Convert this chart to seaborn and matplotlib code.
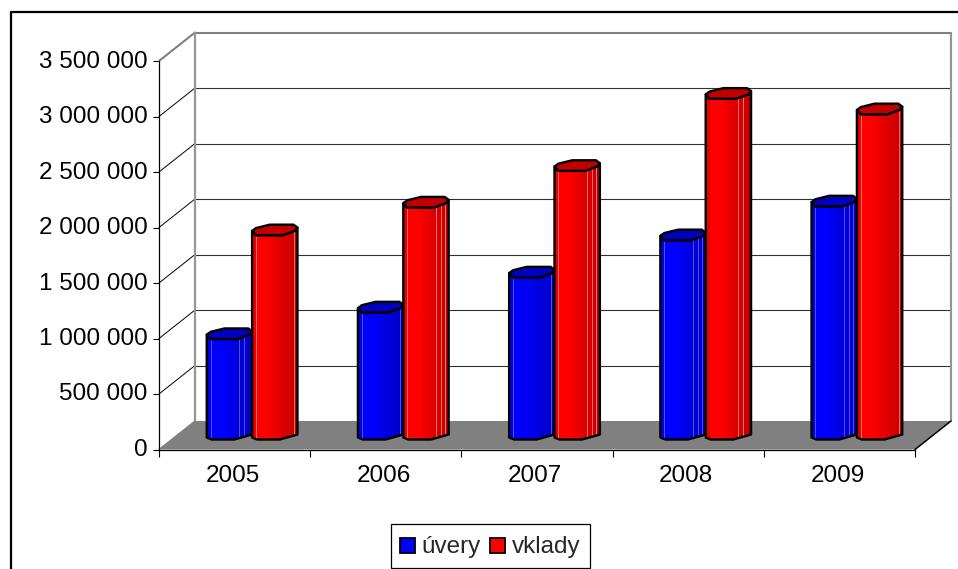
import numpy as np
import pandas as pd
import matplotlib
matplotlib.use("Agg")
import matplotlib.pyplot as plt
import seaborn as sns
from matplotlib.legend_handler import HandlerPatch
from matplotlib.lines import Line2D
from matplotlib.patches import Patch, Polygon, Rectangle
from matplotlib.transforms import Affine2D, IdentityTransform, ScaledTranslation

years = ["2005", "2006", "2007", "2008", "2009"]
uvery = [905000, 1145000, 1460000, 1795000, 2100000]
vklady = [1840000, 2090000, 2420000, 3070000, 2930000]
series_names = ["úvery", "vklady"]
y_ticks = [0, 500000, 1000000, 1500000, 2000000, 2500000, 3000000, 3500000]

W, H = 958, 569
sns.set_style("white")
plt.rcParams["font.family"] = ["Liberation Sans", "DejaVu Sans"]
FS = 17.5

df = pd.DataFrame({
    "rok": years * 2,
    "hodnota": uvery + vklady,
    "typ": [series_names[0]] * 5 + [series_names[1]] * 5,
})
palette = {"úvery": "#0000FF", "vklady": "#FF0000"}

fig = plt.figure(figsize=(W / 100, H / 100), dpi=100, facecolor="white")
# front plane of the pseudo-3D plot, in pixels
L, R, TOP, BOT = 159.0, 915.0, 61.0, 449.5
ax = fig.add_axes([L / W, 1 - BOT / H, (R - L) / W, (BOT - TOP) / H])
ax.patch.set_visible(False)
sns.barplot(data=df, x="rok", y="hodnota", hue="typ", palette=palette, ax=ax,
            width=0.6, gap=0, legend=False, saturation=1)
ax.set_xlim(-0.5, 4.5)
ax.set_ylim(0, 3500000)
ax.set_xlabel("")
ax.set_ylabel("")

# depth offsets
DX, DY = 36.0, 28.5
BAR_DX, BAR_DY = 17.5, 10.0
back = ax.transData + Affine2D().translate(DX, DY)
bar_shift = ax.transData + Affine2D().translate(BAR_DX, BAR_DY)

# walls and floor
x0d, x1d = ax.get_xlim()
to_px = ax.transData.transform
(fx0, fy0), (fx1, fy1) = to_px((x0d, 0)), to_px((x1d, 0))
floor = Polygon([(fx0, fy0), (fx0 + DX, fy0 + DY), (fx1 + DX, fy1 + DY), (fx1, fy1)],
                closed=True, transform=IdentityTransform(), facecolor="#808080",
                edgecolor="none", zorder=1.5, clip_on=False)
ax.add_patch(floor)
GREY = "#969696"
for v in y_ticks:
    is_top = v == y_ticks[-1]
    col = "#808080" if is_top else "#303030"
    lw = 1.5 if is_top else 0.8
    if v != 0:
        ax.add_line(Line2D([x0d, x1d], [v, v], transform=back, color=col, lw=lw,
                           zorder=1, clip_on=False))
        (px, py) = to_px((x0d, v))
        ax.add_line(Line2D([px, px + DX], [py, py + DY], transform=IdentityTransform(),
                           color=col if is_top else "black", lw=1.5 if is_top else 0.7,
                           zorder=1, clip_on=False))
ax.add_line(Line2D([x0d, x0d], [0, y_ticks[-1]], transform=back, color=GREY, lw=1.6,
                   zorder=1.2, clip_on=False))
ax.add_line(Line2D([x1d, x1d], [0, y_ticks[-1]], transform=back, color=GREY, lw=1.6,
                   zorder=1.2, clip_on=False))
ax.add_line(Line2D([fx0, fx0 + DX], [fy0, fy0 + DY], transform=IdentityTransform(),
                   color="#808080", lw=1, zorder=1.6, clip_on=False))
ax.add_line(Line2D([fx1, fx1 + DX], [fy1, fy1 + DY], transform=IdentityTransform(),
                   color="black", lw=1.1, zorder=1.6, clip_on=False))


def facet_table(kind):
    """(start, end, colour) across the width of a column."""
    if kind == 0:
        f = lambda v: (0, 0, v)
        light = (0.3, 0.3, 1.0)
    else:
        f = lambda v: (v, 0, 0)
        light = (1.0, 0.42, 0.42)
    out = [(0.0, 0.085, f(0.9)), (0.085, 0.105, light)]
    edges = np.linspace(0.105, 0.72, 14)
    for a, b in zip(edges[:-1], edges[1:]):
        mid = (a + b) / 2
        val = 1.0 if mid < 0.34 else 1.0 - 0.16 * (mid - 0.34) / 0.38
        out.append((a, b, f(val)))
    out += [(0.72, 0.735, light), (0.735, 0.83, f(0.84)), (0.83, 0.845, light),
            (0.845, 0.925, f(0.8)), (0.925, 0.94, light), (0.94, 1.0, f(0.72))]
    return out


CAP_U = [(0, 4.3), (4, 0), (31, 0), (43, 4.3), (46, 7.6), (42, 10.6), (18, 10.6), (4, 7.2)]
LIP_U = [(0, 4.3), (4, 0), (31, 0), (43, 4.3), (46, 7.6)]
BOT_U = [(46, 5), (28, 0), (5, 0), (0, 2)]

for kind, cont in enumerate(ax.containers[:2]):
    cap_col = "#0000BE" if kind == 0 else "#C00000"
    base_z = 5 + kind * 5
    for rect in cont.patches:
        x, w, h = rect.get_x(), rect.get_width(), rect.get_height()
        (xl, ytop) = bar_shift.transform((x, h))
        (xr, ybot) = bar_shift.transform((x + w, 0))
        sc = (xr - xl) / 46.0
        body = Polygon([(xl + u * sc, ytop + v) for u, v in LIP_U]
                       + [(xl + u * sc, ybot + v) for u, v in BOT_U],
                       closed=True, transform=IdentityTransform(), facecolor="none",
                       edgecolor="black", lw=1.7, zorder=base_z + 0.5, clip_on=False,
                       joinstyle="round")
        ax.add_patch(body)
        rect.set_transform(bar_shift)
        rect.set_zorder(base_z)
        rect.set_clip_path(body)
        for a, b, col in facet_table(kind):
            r = Rectangle((xl + a * (xr - xl), ybot - 2), (b - a) * (xr - xl) + 0.4,
                          ytop - ybot + 16, transform=IdentityTransform(), facecolor=col,
                          edgecolor="none", zorder=base_z + 0.2)
            ax.add_patch(r)
            r.set_clip_path(body)
        cap = Polygon([(xl + u * sc, ytop + v) for u, v in CAP_U], closed=True,
                      transform=IdentityTransform(), facecolor=cap_col, edgecolor="black",
                      lw=1.7, zorder=base_z + 0.6, clip_on=False, joinstyle="round")
        ax.add_patch(cap)

# axes, ticks
sns.despine(ax=ax, top=True, right=True)
for s in ("left", "bottom"):
    ax.spines[s].set_color("black")
    ax.spines[s].set_linewidth(0.9)
ax.set_yticks(y_ticks, [f"{v:,}".replace(",", " ") for v in y_ticks], fontsize=FS, color="black")
ax.set_xticks(np.arange(-0.5, 5, 1.0), [""] * 6)
ax.set_xticks(np.arange(5), years, minor=True, fontsize=FS, color="black")
ax.tick_params(axis="y", which="major", left=True, length=4.5, width=0.8, color="black", pad=3.6)
ax.tick_params(axis="x", which="major", bottom=True, length=4.7, width=0.8, color="black")
ax.tick_params(axis="x", which="minor", bottom=False, length=0, pad=11.5)
shift_up = ScaledTranslation(0, 2.0 / 100, fig.dpi_scale_trans)
for lab in ax.get_yticklabels():
    lab.set_transform(lab.get_transform() + shift_up)
shift_left = ScaledTranslation(-2.0 / 100, 0, fig.dpi_scale_trans)
for lab in ax.get_xticklabels(minor=True):
    lab.set_transform(lab.get_transform() + shift_left)


# legend: 15 px swatches in a slightly taller row
def swatch(legend, orig_handle, xdescent, ydescent, width, height, fontsize):
    side = 10.8
    return Rectangle((-xdescent, -ydescent + (height - side) / 2), side, side)


handles = [Patch(facecolor=palette[n], edgecolor="black", linewidth=1.3, label=n) for n in series_names]
leg = ax.legend(handles=handles, ncol=2, loc="lower left", frameon=True, fancybox=False,
                bbox_to_anchor=(390.7 / W, 1 - 567.5 / H), bbox_transform=fig.transFigure,
                fontsize=FS, borderaxespad=0, borderpad=0.38, handlelength=0.62,
                handleheight=1.1, handletextpad=0.28, columnspacing=0.36, labelspacing=0,
                handler_map={Patch: HandlerPatch(patch_func=swatch)})
leg.get_frame().set_edgecolor("black")
leg.get_frame().set_linewidth(0.9)
leg.get_frame().set_alpha(1)
leg.set_zorder(20)

# outer chart-area border, running off the right and bottom of the picture
fig.add_artist(Line2D([1.01, 10.5 / W, 10.5 / W], [1 - 12 / H, 1 - 12 / H, -0.01],
                      transform=fig.transFigure, color="black", lw=1.6))

fig.savefig("out.png", dpi=100)
